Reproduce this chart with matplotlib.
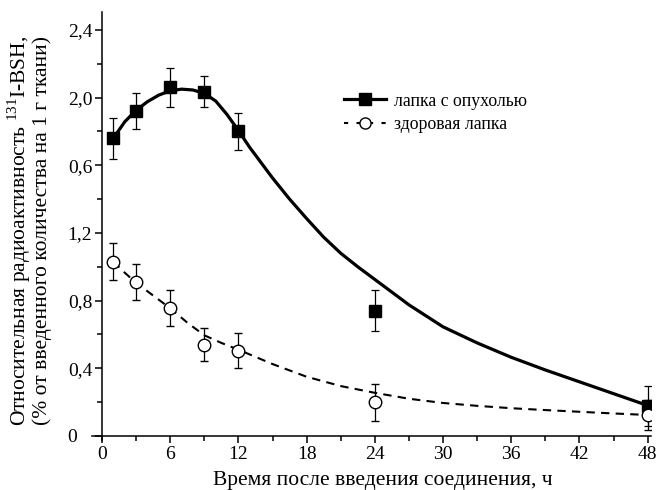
import numpy as np
import matplotlib
matplotlib.use('agg')
import matplotlib.pyplot as plt
from matplotlib.lines import Line2D
from matplotlib.ticker import MultipleLocator

plt.rcParams['font.family'] = ['Liberation Serif', 'DejaVu Serif']
plt.rcParams['mathtext.fontset'] = 'custom'
plt.rcParams['mathtext.rm'] = 'Liberation Serif'

# time points, h
hours = [1, 3, 6, 9, 12, 24, 48]

# paw with tumour (filled squares)
tumor = [1.76, 1.92, 2.06, 2.035, 1.80, 0.74, 0.177]
tumor_err = [0.12, 0.105, 0.115, 0.09, 0.11, 0.12, 0.12]

# healthy paw (open circles)
healthy = [1.03, 0.91, 0.755, 0.54, 0.505, 0.20, 0.124]
healthy_err = [0.11, 0.105, 0.105, 0.097, 0.105, 0.11, 0.09]

# fitted curves
fit_t_x = [1, 2, 3, 4, 5, 6, 7, 8, 9, 10, 11, 12, 13, 14, 15, 16.5, 18, 19.5, 21, 22.5, 24,
           27, 30, 33, 36, 39, 42, 45, 48]
fit_t_y = [1.76, 1.857, 1.925, 1.976, 2.015, 2.04, 2.05, 2.045, 2.025, 1.98, 1.90, 1.805,
           1.705, 1.615, 1.525, 1.40, 1.285, 1.175, 1.08, 1.0, 0.925,
           0.775, 0.645, 0.55, 0.465, 0.39, 0.32, 0.25, 0.18]
fit_h_x = [1, 2, 3, 4.5, 6, 7.5, 9, 10.5, 12, 15, 18, 21, 24, 27, 30, 33, 36, 39, 42, 45, 48]
fit_h_y = [1.03, 0.965, 0.905, 0.83, 0.755, 0.67, 0.595, 0.55, 0.51, 0.425, 0.35, 0.295,
           0.255, 0.22, 0.195, 0.178, 0.164, 0.153, 0.143, 0.133, 0.124]

ytick_pos = [0, 0.4, 0.8, 1.2, 1.6, 2.0, 2.4]
ytick_lab = ['0   ', '0,4', '0,8', '1,2', '0,6', '2,0', '2,4']
xtick_pos = [0, 6, 12, 18, 24, 30, 36, 42, 48]

fig = plt.figure(figsize=(6.59, 4.9), dpi=100)
ax = fig.add_axes([0.1396, 0.102, 0.8484, 0.8735])

ax.plot(fit_t_x, fit_t_y, color='k', lw=2.3, solid_capstyle='round', solid_joinstyle='round')
ax.plot(fit_h_x, fit_h_y, color='k', lw=1.5, dashes=(4, 3))

ax.errorbar(hours, tumor, yerr=tumor_err, fmt='s', color='k', ms=8,
            ecolor='k', elinewidth=0.9, capsize=2.7, capthick=0.9)
ax.errorbar(hours, healthy, yerr=healthy_err, fmt='o', mfc='white', mec='k', mew=1.0,
            ms=9, ecolor='k', elinewidth=0.9, capsize=2.7, capthick=0.9)

ax.set_xlim(-0.88, 48.3)
ax.set_ylim(-0.024, 2.506)
ax.set_xticks(xtick_pos)
ax.set_xticklabels([str(v) for v in xtick_pos])
ax.xaxis.set_minor_locator(MultipleLocator(3))
ax.set_yticks(ytick_pos)
ax.set_yticklabels(ytick_lab)
ax.yaxis.set_minor_locator(MultipleLocator(0.2))
ax.tick_params(which='major', direction='out', length=5, width=1.1, labelsize=14, pad=2)
ax.tick_params(which='minor', direction='out', length=3.5, width=1.1)

ax.spines['top'].set_visible(False)
ax.spines['right'].set_visible(False)
ax.spines['left'].set_linewidth(1.1)
ax.spines['bottom'].set_linewidth(1.1)
ax.spines['left'].set_position(('data', 0))
ax.spines['bottom'].set_position(('data', 0))

ax.set_xlabel('Время после введения соединения, ч', fontsize=15.5)
ax.xaxis.set_label_coords(0.52, -0.073)
ax.set_ylabel('Относительная радиоактивность $^{131}$I-BSH,\n(% от введенного количества на 1 г ткани)',
              fontsize=15.5, linespacing=1.0)
ax.yaxis.set_label_coords(-0.071, 0.49)

handles = [
    Line2D([], [], color='k', lw=2.3, marker='s', ms=8),
    Line2D([], [], color='k', lw=1.5, dashes=(2, 4), marker='o', mfc='white', mec='k', ms=8),
]
ax.legend(handles, ['лапка с опухолью', 'здоровая лапка'], loc='center left',
          bbox_to_anchor=(0.434, 0.764), frameon=False, fontsize=12.8,
          handlelength=2.4, handletextpad=0.45, labelspacing=0.38, borderpad=0)

fig.savefig('out.png', dpi=100)
